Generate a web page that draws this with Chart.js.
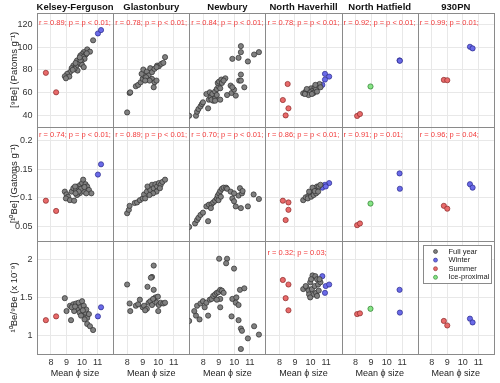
<!DOCTYPE html>
<html>
<head>
<meta charset="utf-8">
<script src="https://cdn.jsdelivr.net/npm/chart.js@4"></script>
<style>
  html, body { margin: 0; padding: 0; background: #fff; }
  canvas { display: block; }
</style>
</head>
<body>
<canvas id="grid" width="500" height="383"></canvas>
<script>
const sites = ['Kelsey-Ferguson', 'Glastonbury', 'Newbury', 'North Haverhill', 'North Hatfield', '930PN']
const seasons = ['Full year', 'Winter', 'Summer', 'Ice-proximal']

const phiTicks = [8, 9, 10, 11]
const be9Ticks = [40, 60, 80, 100, 120]
const be10Ticks = [0.05, 0.1, 0.15, 0.2]
const ratioTicks = [1, 1.5, 2]

const be9Stats = ['r = 0.89; p = p < 0.01;', 'r = 0.78; p = p < 0.01;', 'r = 0.84; p = p < 0.01;', 'r = 0.78; p = p < 0.01;', 'r = 0.92; p = p < 0.01;', 'r = 0.99; p = 0.01;']
const be10Stats = ['r = 0.74; p = p < 0.01;', 'r = 0.89; p = p < 0.01;', 'r = 0.70; p = p < 0.01;', 'r = 0.86; p = p < 0.01;', 'r = 0.91; p = 0.01;', 'r = 0.96; p = 0.04;']
const ratioStats = ['', '', '', 'r = 0.32; p = 0.03;', '', '']

// [mean phi, value] pairs
const kfFullBe9 = [[10.71, 106], [10.33, 98], [10.51, 96], [10.11, 95.6], [10.0, 93.8], [10.22, 93.2], [9.89, 92.6], [10.07, 91.2], [9.84, 89.7], [10.16, 89.7], [9.67, 88.2], [9.96, 87.4], [9.78, 85.3], [9.44, 83.8], [9.62, 83.2], [10.0, 84.4], [9.33, 81.5], [9.71, 79.4], [9.51, 80.9], [9.22, 78], [9.04, 76.5], [8.89, 74.4], [9.18, 74.1], [8.96, 72.6], [10.11, 82.4], [9.9, 88.5], [10.3, 94.5], [9.58, 86], [9.4, 80], [9.85, 91]]
const kfWinterBe9 = [[11.02, 112], [11.22, 115]]
const kfSummerBe9 = [[7.67, 77.4], [8.33, 60.3]]
const kfFullBe10 = [[8.89, 0.111], [9.0, 0.106], [9.1, 0.102], [8.96, 0.099], [9.22, 0.096], [9.49, 0.095], [9.33, 0.111], [9.44, 0.117], [9.62, 0.114], [9.71, 0.12], [9.89, 0.123], [10.0, 0.126], [10.07, 0.132], [10.22, 0.124], [10.33, 0.12], [10.44, 0.114], [10.6, 0.108], [10.11, 0.111], [9.84, 0.108], [9.67, 0.105], [10.27, 0.108], [9.93, 0.116], [9.78, 0.111], [9.58, 0.108], [10.15, 0.119], [9.55, 0.12]]
const kfWinterBe10 = [[11.02, 0.141], [11.22, 0.159]]
const kfSummerBe10 = [[7.67, 0.095], [8.33, 0.077]]
const kfFullRatio = [[8.89, 1.49], [9.0, 1.32], [9.29, 1.2], [9.22, 1.39], [9.44, 1.41], [9.62, 1.42], [9.78, 1.43], [10.0, 1.45], [9.89, 1.37], [10.11, 1.39], [9.67, 1.34], [9.84, 1.3], [10.07, 1.28], [10.22, 1.3], [10.33, 1.23], [10.16, 1.21], [10.33, 1.15], [10.51, 1.12], [10.71, 1.07], [9.49, 1.32], [9.33, 1.37], [9.93, 1.26], [10.27, 1.34], [10.44, 1.28], [9.55, 1.38], [10.05, 1.33]]
const kfWinterRatio = [[11.02, 1.25], [11.22, 1.37]]
const kfSummerRatio = [[7.67, 1.2], [8.33, 1.25]]

const glFullBe9 = [[8.0, 42.6], [8.16, 59.7], [8.2, 60.3], [8.56, 65.6], [8.71, 66.8], [8.87, 69.1], [9.0, 72.1], [9.09, 75], [8.93, 76.5], [9.04, 80.3], [9.27, 78.5], [9.38, 75], [9.49, 81.5], [9.6, 72.1], [9.76, 69.1], [9.71, 64.7], [9.89, 70.6], [9.6, 78], [9.76, 80.9], [9.93, 83.8], [10.04, 83.2], [10.2, 85.3], [10.33, 86.2], [10.44, 91.2], [9.89, 82.4], [9.22, 73.5], [9.44, 70.6], [9.16, 70.6]]
const glFullBe10 = [[8.0, 0.073], [8.11, 0.079], [8.16, 0.086], [8.49, 0.091], [8.64, 0.092], [8.82, 0.096], [9.0, 0.099], [9.09, 0.106], [9.27, 0.111], [9.49, 0.114], [9.31, 0.12], [9.6, 0.123], [9.71, 0.117], [9.82, 0.124], [9.93, 0.12], [10.04, 0.126], [10.16, 0.123], [10.27, 0.128], [10.44, 0.132], [9.89, 0.111], [9.67, 0.108], [9.16, 0.099], [10.11, 0.117], [9.44, 0.105]]
const glFullRatio = [[8.0, 1.67], [8.16, 1.42], [8.2, 1.32], [8.56, 1.39], [8.71, 1.41], [8.82, 1.47], [9.0, 1.37], [9.09, 1.39], [9.27, 1.35], [9.38, 1.43], [9.49, 1.45], [9.6, 1.4], [9.71, 1.92], [9.6, 1.77], [9.53, 1.76], [9.31, 1.64], [9.71, 1.6], [9.82, 1.5], [9.98, 1.51], [9.67, 1.48], [9.89, 1.43], [10.04, 1.4], [10.16, 1.43], [10.33, 1.42], [10.44, 1.43], [10.0, 1.32], [9.16, 1.33]]

const nbFullBe9 = [[7.09, 39.7], [7.53, 39.7], [7.6, 43.2], [7.69, 45.6], [7.82, 47.9], [7.91, 50], [7.98, 51.5], [8.31, 46.2], [8.36, 53.8], [8.49, 55.9], [8.2, 58.8], [8.42, 60.3], [8.58, 58.8], [8.64, 52.9], [8.53, 53.8], [8.76, 55], [8.76, 61], [8.87, 63.2], [8.98, 65.6], [8.93, 68.5], [9.02, 69.7], [9.16, 71.5], [9.2, 68.5], [9.09, 63.8], [8.87, 57.9], [8.76, 52.9], [9.09, 53.8], [9.53, 57.9], [9.82, 59.7], [9.98, 62.6], [10.09, 57.4], [9.76, 66.2], [9.87, 64.7], [10.31, 70.6], [10.42, 70.6], [10.64, 64.7], [10.42, 75.9], [9.87, 89.7], [10.27, 90.6], [10.42, 95.6], [10.42, 100.9], [10.87, 87.4], [11.27, 93.5], [11.58, 95.6], [9.42, 72.6], [9.31, 70.6]]
const nbFullBe10 = [[7.09, 0.049], [7.47, 0.055], [7.6, 0.061], [7.69, 0.065], [7.82, 0.07], [7.98, 0.074], [8.31, 0.059], [8.2, 0.085], [8.36, 0.088], [8.53, 0.089], [8.64, 0.092], [8.49, 0.082], [8.76, 0.095], [8.87, 0.099], [8.93, 0.104], [9.02, 0.108], [9.09, 0.112], [9.2, 0.116], [9.31, 0.118], [9.47, 0.118], [9.53, 0.116], [8.98, 0.096], [9.13, 0.102], [9.87, 0.099], [9.98, 0.094], [10.09, 0.085], [10.42, 0.082], [10.87, 0.085], [10.27, 0.104], [10.36, 0.117], [10.49, 0.108], [10.53, 0.112], [11.24, 0.106], [11.58, 0.098], [9.76, 0.111], [9.98, 0.108]]
const nbFullRatio = [[7.09, 1.19], [7.53, 1.26], [7.76, 1.21], [7.42, 1.32], [7.6, 1.39], [7.82, 1.42], [7.98, 1.45], [8.09, 1.37], [8.31, 1.26], [8.2, 1.43], [8.42, 1.47], [8.53, 1.48], [8.64, 1.52], [8.76, 1.54], [8.87, 1.56], [8.98, 1.57], [9.09, 1.6], [9.2, 1.59], [9.31, 1.56], [9.09, 1.48], [8.87, 1.47], [9.09, 1.37], [9.02, 2.01], [9.53, 2.01], [9.47, 1.95], [9.98, 1.88], [9.87, 1.48], [10.09, 1.43], [10.27, 1.4], [10.36, 1.6], [10.64, 1.62], [10.13, 1.5], [9.82, 1.25], [10.27, 1.2], [10.42, 1.09], [10.49, 1.06], [10.87, 0.96], [11.27, 1.12], [11.58, 1.01], [10.42, 0.82]]

const nhFullBe9 = [[9.53, 59.4], [9.69, 60.9], [9.82, 59.7], [9.91, 62.6], [10.04, 63.8], [10.13, 61.8], [10.27, 64.7], [10.36, 63.2], [10.49, 66.2], [10.58, 67.6], [9.98, 60.3], [10.2, 59.7], [10.42, 60.9], [9.87, 57.9], [10.09, 58.8], [10.31, 66.8], [9.76, 63.2], [10.64, 64.7], [9.64, 58.8]]
const nhWinterBe9 = [[10.93, 76.5], [11.2, 74.1], [10.93, 71.5], [10.76, 66.8]]
const nhSummerBe9 = [[8.53, 67.6], [8.22, 53.5], [8.58, 46.2], [8.4, 40]]
const nhFullBe10 = [[9.53, 0.096], [9.69, 0.101], [9.87, 0.104], [9.98, 0.108], [10.09, 0.111], [10.2, 0.114], [10.31, 0.117], [10.42, 0.12], [10.53, 0.12], [9.82, 0.099], [10.04, 0.102], [10.2, 0.105], [10.36, 0.108], [9.91, 0.111], [10.13, 0.118], [10.27, 0.112], [10.49, 0.111], [10.64, 0.123]]
const nhWinterBe10 = [[11.2, 0.126], [10.93, 0.123], [10.76, 0.118], [10.98, 0.12]]
const nhSummerBe10 = [[8.22, 0.095], [8.58, 0.092], [8.58, 0.079], [8.4, 0.061]]
const nhFullRatio = [[9.53, 1.61], [9.76, 1.63], [9.98, 1.7], [10.13, 1.79], [10.31, 1.78], [10.42, 1.74], [9.87, 1.59], [10.09, 1.61], [10.27, 1.65], [10.49, 1.67], [9.69, 1.65], [9.91, 1.54], [10.2, 1.54], [10.36, 1.56], [10.53, 1.59], [10.04, 1.74], [10.42, 1.52], [9.98, 1.5], [10.64, 1.7], [10.58, 1.74]]
const nhWinterRatio = [[10.76, 1.78], [10.98, 1.65], [11.2, 1.67], [10.93, 1.56]]
const nhSummerRatio = [[8.22, 1.73], [8.58, 1.67], [8.4, 1.49], [8.58, 1.33]]

const hfWinterBe9 = [[10.83, 88.3], [10.85, 88]]
const hfSummerBe9 = [[8.1, 39.5], [8.28, 41.2]]
const hfIceBe9 = [[8.96, 65.4]]
const hfWinterBe10 = [[10.83, 0.143], [10.85, 0.116]]
const hfSummerBe10 = [[8.1, 0.052], [8.28, 0.055]]
const hfIceBe10 = [[8.96, 0.09]]
const hfWinterRatio = [[10.83, 1.6], [10.85, 1.3]]
const hfSummerRatio = [[8.1, 1.28], [8.28, 1.29]]
const hfIceRatio = [[8.96, 1.35]]

const pnWinterBe9 = [[10.46, 100.3], [10.63, 98.9]]
const pnSummerBe9 = [[8.78, 71.2], [9.0, 70.9]]
const pnWinterBe10 = [[10.46, 0.124], [10.63, 0.118]]
const pnSummerBe10 = [[8.78, 0.086], [9.0, 0.081]]
const pnWinterRatio = [[10.46, 1.22], [10.63, 1.17]]
const pnSummerRatio = [[8.78, 1.19], [9.0, 1.13]]

// rows top to bottom; each cell lists [full year, winter, summer, ice-proximal]
const rowIds = ['y9', 'y10', 'yr']
const rowTitles = ['[⁹Be] (Patoms g⁻¹)', '[¹⁰Be] (Gatoms g⁻¹)', '¹⁰Be/⁹Be (x 10⁻⁹)']
const rowRanges = [[30, 130], [0.025, 0.225], [0.75, 2.25]]
const rowTicks = [be9Ticks, be10Ticks, ratioTicks]
const rowStats = [be9Stats, be10Stats, ratioStats]
const rowTextOffset = [9.5, 8, 12.3]
const rowPoints = [
  [[kfFullBe9, kfWinterBe9, kfSummerBe9], [glFullBe9], [nbFullBe9], [nhFullBe9, nhWinterBe9, nhSummerBe9], [null, hfWinterBe9, hfSummerBe9, hfIceBe9], [null, pnWinterBe9, pnSummerBe9]],
  [[kfFullBe10, kfWinterBe10, kfSummerBe10], [glFullBe10], [nbFullBe10], [nhFullBe10, nhWinterBe10, nhSummerBe10], [null, hfWinterBe10, hfSummerBe10, hfIceBe10], [null, pnWinterBe10, pnSummerBe10]],
  [[kfFullRatio, kfWinterRatio, kfSummerRatio], [glFullRatio], [nbFullRatio], [nhFullRatio, nhWinterRatio, nhSummerRatio], [null, hfWinterRatio, hfSummerRatio, hfIceRatio], [null, pnWinterRatio, pnSummerRatio]]
]

const seasonFill = ['#808080', '#6a6ae8', '#e86a6a', '#86e486']
const seasonEdge = ['#2e2e2e', '#2a2a8a', '#8a2a2a', '#2a7a2a']
const fontFamily = 'Arial, "Liberation Sans", Helvetica, sans-serif'

Chart.defaults.font.family = fontFamily

const datasets = []
rowPoints.forEach((cells, r) => {
  cells.forEach((cell, c) => {
    cell.forEach((pts, s) => {
      if (!pts) return
      datasets.push({
        label: seasons[s],
        data: pts.map(([x, y]) => ({ x, y })),
        xAxisID: 'x' + c,
        yAxisID: rowIds[r],
        backgroundColor: seasonFill[s],
        borderColor: seasonEdge[s],
        borderWidth: 0.7,
        pointRadius: 2.6
      })
    })
  })
})

const scales = {}
// chart.js places stacked left axes last-added first, so add the bottom row first
;[2, 1, 0].forEach((r) => {
  scales[rowIds[r]] = {
    type: 'linear',
    position: 'left',
    stack: 'rows',
    min: rowRanges[r][0],
    max: rowRanges[r][1],
    afterBuildTicks: (scale) => { scale.ticks = rowTicks[r].map((value) => ({ value })) },
    afterFit: (scale) => { scale.width = 37 },
    grid: { color: '#e8e8e8', drawTicks: false },
    border: { display: false },
    ticks: { padding: 4.5, color: '#333', font: { size: 9 }, callback: (v) => String(v) },
    title: { display: true, text: rowTitles[r], color: '#222', font: { size: 9.5 }, padding: { top: 8.5, bottom: 0 } }
  }
})
sites.forEach((site, c) => {
  scales['x' + c] = {
    type: 'linear',
    position: 'bottom',
    stack: 'cols',
    min: 7.1,
    max: 12,
    afterBuildTicks: (scale) => { scale.ticks = phiTicks.map((value) => ({ value })) },
    afterFit: (scale) => { scale.height = 28.7 },
    grid: { color: '#e8e8e8', drawTicks: false },
    border: { display: false },
    ticks: { padding: 3, color: '#333', font: { size: 9 }, maxRotation: 0, autoSkip: false },
    title: { display: true, text: 'Mean ϕ size', color: '#222', font: { size: 9 }, padding: { top: 0, bottom: 4.1 } }
  }
})

const panelFrames = {
  id: 'panelFrames',
  beforeDatasetsDraw (chart) {
    const ctx = chart.ctx
    ctx.save()
    ctx.strokeStyle = '#8a8a8a'
    ctx.lineWidth = 1
    rowIds.forEach((yId) => {
      const ys = chart.scales[yId]
      sites.forEach((site, c) => {
        const xs = chart.scales['x' + c]
        const l = Math.round(xs.left) + 0.5
        const t = Math.round(ys.top) + 0.5
        ctx.strokeRect(l, t, Math.round(xs.right) - Math.round(xs.left), Math.round(ys.bottom) - Math.round(ys.top))
      })
    })
    ctx.restore()
  }
}

const panelText = {
  id: 'panelText',
  afterDraw (chart) {
    const ctx = chart.ctx
    ctx.save()
    ctx.textBaseline = 'middle'
    ctx.fillStyle = '#111'
    ctx.textAlign = 'center'
    ctx.font = 'bold 9.5px ' + fontFamily
    sites.forEach((site, c) => {
      const xs = chart.scales['x' + c]
      ctx.fillText(site, (xs.left + xs.right) / 2, 7)
    })

    ctx.textAlign = 'left'
    ctx.fillStyle = '#f23a3a'
    ctx.font = '7.5px ' + fontFamily
    rowIds.forEach((yId, r) => {
      const ys = chart.scales[yId]
      rowStats[r].forEach((text, c) => {
        if (!text) return
        const xs = chart.scales['x' + c]
        ctx.fillText(text, xs.left + 2, ys.top + rowTextOffset[r])
      })
    })

    // legend in the bottom-right panel
    const xs = chart.scales.x5
    const ys = chart.scales.yr
    const w = 68
    const h = 38
    const left = Math.round(xs.right - 3 - w) + 0.5
    const top = Math.round(ys.top + 4) + 0.5
    ctx.fillStyle = '#fff'
    ctx.fillRect(left, top, w, h)
    ctx.strokeStyle = '#8a8a8a'
    ctx.lineWidth = 1
    ctx.strokeRect(left, top, w, h)
    seasons.forEach((name, s) => {
      const cy = top + 6 + s * 8.6
      ctx.beginPath()
      ctx.arc(left + 12, cy, 2, 0, Math.PI * 2)
      ctx.fillStyle = seasonFill[s]
      ctx.fill()
      ctx.lineWidth = 0.6
      ctx.strokeStyle = seasonEdge[s]
      ctx.stroke()
      ctx.fillStyle = '#222'
      ctx.fillText(name, left + 25, cy)
    })
    ctx.restore()
  }
}

new Chart(document.getElementById('grid'), {
  type: 'scatter',
  data: { datasets },
  options: {
    responsive: false,
    animation: false,
    devicePixelRatio: 1,
    layout: { padding: { top: 13, right: 4.5, left: 0, bottom: 0 } },
    scales,
    plugins: {
      legend: { display: false },
      tooltip: { enabled: false }
    }
  },
  plugins: [panelFrames, panelText]
})
</script>
</body>
</html>
